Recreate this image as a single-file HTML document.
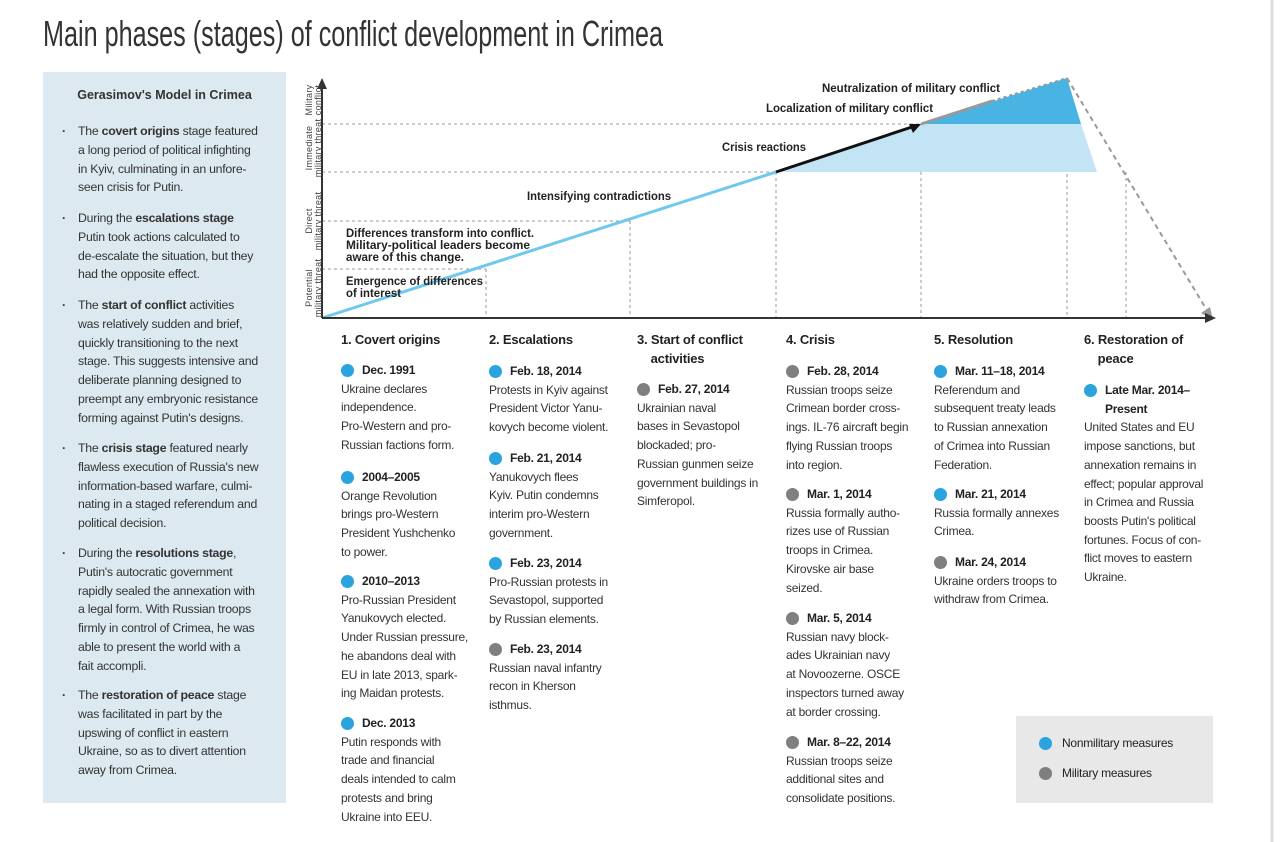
<!DOCTYPE html>
<html><head><meta charset="utf-8"><style>
body{margin:0;width:1280px;height:842px;background:#fff;position:relative;overflow:hidden;font-family:"Liberation Sans",sans-serif;color:#2b2b2b}
.abs{position:absolute}
.lp{left:43px;top:72px;width:243px;height:731px;background:#dce9f1}
.p{position:absolute;left:78px;font-size:12.3px;line-height:18.8px;letter-spacing:-0.25px;white-space:nowrap;color:#333}
.p:before{content:"·";position:absolute;left:-16px;top:0;font-weight:bold}
.col{position:absolute;font-size:12px;line-height:18.7px;letter-spacing:-0.25px;white-space:nowrap;color:#333}
.h{font-weight:bold;font-size:13px;letter-spacing:-0.2px;color:#222}
.d{font-weight:bold;color:#222;padding-left:21px;position:relative}
.d:before{content:"";position:absolute;left:0;top:3px;width:13px;height:13px;border-radius:50%;background:#2aa3de}
.g:before{background:#7f7f7f}
</style></head><body>
<svg class="abs" style="left:0;top:0" width="1280" height="842">
<text x="43" y="46" font-size="36" textLength="620" lengthAdjust="spacingAndGlyphs" fill="#333" font-family="Liberation Sans">Main phases (stages) of conflict development in Crimea</text>
<line x1="1272" y1="0" x2="1272" y2="842" stroke="#ddd" stroke-width="3"/>
<g stroke="#999" stroke-dasharray="3,3" stroke-width="1">
<line x1="322" y1="124" x2="921" y2="124"/><line x1="322" y1="172" x2="776" y2="172"/>
<line x1="322" y1="221" x2="630" y2="221"/><line x1="322" y1="269" x2="486" y2="269"/>
<line x1="486" y1="269" x2="486" y2="318"/><line x1="630" y1="221" x2="630" y2="318"/>
<line x1="776" y1="172" x2="776" y2="318"/><line x1="921" y1="124" x2="921" y2="318"/>
<line x1="1067" y1="78" x2="1067" y2="318"/><line x1="1126" y1="172" x2="1126" y2="318"/>
</g>
<polygon points="776,172 921,124 1081,124 1097,172" fill="#c3e4f4"/>
<polygon points="921,124 1067,78 1081,124" fill="#49b3e3"/>
<line x1="322" y1="318" x2="776" y2="172" stroke="#6fc8ee" stroke-width="3"/>
<line x1="776" y1="172" x2="915" y2="126" stroke="#111" stroke-width="3"/>
<polygon points="921,124 909,124 913,133" fill="#111"/>
<line x1="921" y1="124" x2="992" y2="101" stroke="#999" stroke-width="3"/>
<line x1="992" y1="101" x2="1067" y2="78" stroke="#999" stroke-width="2" stroke-dasharray="3,3"/>
<line x1="1067" y1="78" x2="1208" y2="312" stroke="#999" stroke-width="2" stroke-dasharray="5,4"/>
<polygon points="1213,320 1201,313 1210,307" fill="#999"/>
<line x1="322" y1="318" x2="1210" y2="318" stroke="#333" stroke-width="2"/>
<polygon points="1216,318 1205,313 1205,323" fill="#333"/>
<line x1="322" y1="318" x2="322" y2="84" stroke="#333" stroke-width="2"/>
<polygon points="322,78 317,89 327,89" fill="#333"/>
<g font-size="11.5" font-weight="bold" fill="#222" font-family="Liberation Sans">
<text x="822" y="92" textLength="178" lengthAdjust="spacingAndGlyphs">Neutralization of military conflict</text>
<text x="766" y="112" textLength="167" lengthAdjust="spacingAndGlyphs">Localization of military conflict</text>
<text x="722" y="151" textLength="84" lengthAdjust="spacingAndGlyphs">Crisis reactions</text>
<text x="527" y="200" textLength="144" lengthAdjust="spacingAndGlyphs">Intensifying contradictions</text>
<text x="346" y="237" textLength="188" lengthAdjust="spacingAndGlyphs">Differences transform into conflict.</text>
<text x="346" y="249" textLength="184" lengthAdjust="spacingAndGlyphs">Military-political leaders become</text>
<text x="346" y="261" textLength="118" lengthAdjust="spacingAndGlyphs">aware of this change.</text>
<text x="346" y="285" textLength="137" lengthAdjust="spacingAndGlyphs">Emergence of differences</text>
<text x="346" y="297" textLength="55" lengthAdjust="spacingAndGlyphs">of interest</text>
</g>
<g font-size="9" fill="#444" font-family="Liberation Sans" text-anchor="middle" letter-spacing="0.3">
<text transform="translate(312,100) rotate(-90)">Military</text><text transform="translate(321,100) rotate(-90)">conflict</text>
<text transform="translate(312,148) rotate(-90)">Immediate</text><text transform="translate(321,148) rotate(-90)">military threat</text>
<text transform="translate(312,221) rotate(-90)">Direct</text><text transform="translate(321,221) rotate(-90)">military threat</text>
<text transform="translate(312,288) rotate(-90)">Potential</text><text transform="translate(321,288) rotate(-90)">military threat</text>
</g>
</svg>

<div class="abs lp"></div>
<div class="abs" style="left:43px;width:243px;top:88px;text-align:center;font-weight:bold;font-size:12.5px;color:#333">Gerasimov's Model in Crimea</div>
<div class="p" style="top:122px">The <b>covert origins</b> stage featured<br>a long period of political infighting<br>in Kyiv, culminating in an unfore-<br>seen crisis for Putin.</div>
<div class="p" style="top:209px">During the <b>escalations stage</b><br>Putin took actions calculated to<br>de-escalate the situation, but they<br>had the opposite effect.</div>
<div class="p" style="top:296px">The <b>start of conflict</b> activities<br>was relatively sudden and brief,<br>quickly transitioning to the next<br>stage. This suggests intensive and<br>deliberate planning designed to<br>preempt any embryonic resistance<br>forming against Putin's designs.</div>
<div class="p" style="top:439px">The <b>crisis stage</b> featured nearly<br>flawless execution of Russia's new<br>information-based warfare, culmi-<br>nating in a staged referendum and<br>political decision.</div>
<div class="p" style="top:544px">During the <b>resolutions stage</b>,<br>Putin's autocratic government<br>rapidly sealed the annexation with<br>a legal form. With Russian troops<br>firmly in control of Crimea, he was<br>able to present the world with a<br>fait accompli.</div>
<div class="p" style="top:686px">The <b>restoration of peace</b> stage<br>was facilitated in part by the<br>upswing of conflict in eastern<br>Ukraine, so as to divert attention<br>away from Crimea.</div>

<div class="col h" style="left:341px;top:331px">1. Covert origins</div>
<div class="col" style="left:341px;top:361px"><div class="d">Dec. 1991</div>Ukraine declares<br>independence.<br>Pro-Western and pro-<br>Russian factions form.</div>
<div class="col" style="left:341px;top:468px"><div class="d">2004–2005</div>Orange Revolution<br>brings pro-Western<br>President Yushchenko<br>to power.</div>
<div class="col" style="left:341px;top:572px"><div class="d">2010–2013</div>Pro-Russian President<br>Yanukovych elected.<br>Under Russian pressure,<br>he abandons deal with<br>EU in late 2013, spark-<br>ing Maidan protests.</div>
<div class="col" style="left:341px;top:714px"><div class="d">Dec. 2013</div>Putin responds with<br>trade and financial<br>deals intended to calm<br>protests and bring<br>Ukraine into EEU.</div>

<div class="col h" style="left:489px;top:331px">2. Escalations</div>
<div class="col" style="left:489px;top:362px"><div class="d">Feb. 18, 2014</div>Protests in Kyiv against<br>President Victor Yanu-<br>kovych become violent.</div>
<div class="col" style="left:489px;top:449px"><div class="d">Feb. 21, 2014</div>Yanukovych flees<br>Kyiv. Putin condemns<br>interim pro-Western<br>government.</div>
<div class="col" style="left:489px;top:554px"><div class="d">Feb. 23, 2014</div>Pro-Russian protests in<br>Sevastopol, supported<br>by Russian elements.</div>
<div class="col" style="left:489px;top:640px"><div class="d g">Feb. 23, 2014</div>Russian naval infantry<br>recon in Kherson<br>isthmus.</div>

<div class="col h" style="left:637px;top:331px">3. Start of conflict<br>&nbsp;&nbsp;&nbsp;&nbsp;activities</div>
<div class="col" style="left:637px;top:380px"><div class="d g">Feb. 27, 2014</div>Ukrainian naval<br>bases in Sevastopol<br>blockaded; pro-<br>Russian gunmen seize<br>government buildings in<br>Simferopol.</div>

<div class="col h" style="left:786px;top:331px">4. Crisis</div>
<div class="col" style="left:786px;top:362px"><div class="d g">Feb. 28, 2014</div>Russian troops seize<br>Crimean border cross-<br>ings. IL-76 aircraft begin<br>flying Russian troops<br>into region.</div>
<div class="col" style="left:786px;top:485px"><div class="d g">Mar. 1, 2014</div>Russia formally autho-<br>rizes use of Russian<br>troops in Crimea.<br>Kirovske air base<br>seized.</div>
<div class="col" style="left:786px;top:609px"><div class="d g">Mar. 5, 2014</div>Russian navy block-<br>ades Ukrainian navy<br>at Novoozerne. OSCE<br>inspectors turned away<br>at border crossing.</div>
<div class="col" style="left:786px;top:733px"><div class="d g">Mar. 8–22, 2014</div>Russian troops seize<br>additional sites and<br>consolidate positions.</div>

<div class="col h" style="left:934px;top:331px">5. Resolution</div>
<div class="col" style="left:934px;top:362px"><div class="d">Mar. 11–18, 2014</div>Referendum and<br>subsequent treaty leads<br>to Russian annexation<br>of Crimea into Russian<br>Federation.</div>
<div class="col" style="left:934px;top:485px"><div class="d">Mar. 21, 2014</div>Russia formally annexes<br>Crimea.</div>
<div class="col" style="left:934px;top:553px"><div class="d g">Mar. 24, 2014</div>Ukraine orders troops to<br>withdraw from Crimea.</div>

<div class="col h" style="left:1084px;top:331px">6. Restoration of<br>&nbsp;&nbsp;&nbsp;&nbsp;peace</div>
<div class="col" style="left:1084px;top:381px"><div class="d">Late Mar. 2014–<br>Present</div>United States and EU<br>impose sanctions, but<br>annexation remains in<br>effect; popular approval<br>in Crimea and Russia<br>boosts Putin's political<br>fortunes. Focus of con-<br>flict moves to eastern<br>Ukraine.</div>

<div class="abs" style="left:1016px;top:716px;width:197px;height:87px;background:#e8e8e8"></div>
<div class="col" style="left:1039px;top:734px"><div class="d" style="font-weight:normal;padding-left:23px">Nonmilitary measures</div></div>
<div class="col" style="left:1039px;top:764px"><div class="d g" style="font-weight:normal;padding-left:23px">Military measures</div></div>
</body></html>
